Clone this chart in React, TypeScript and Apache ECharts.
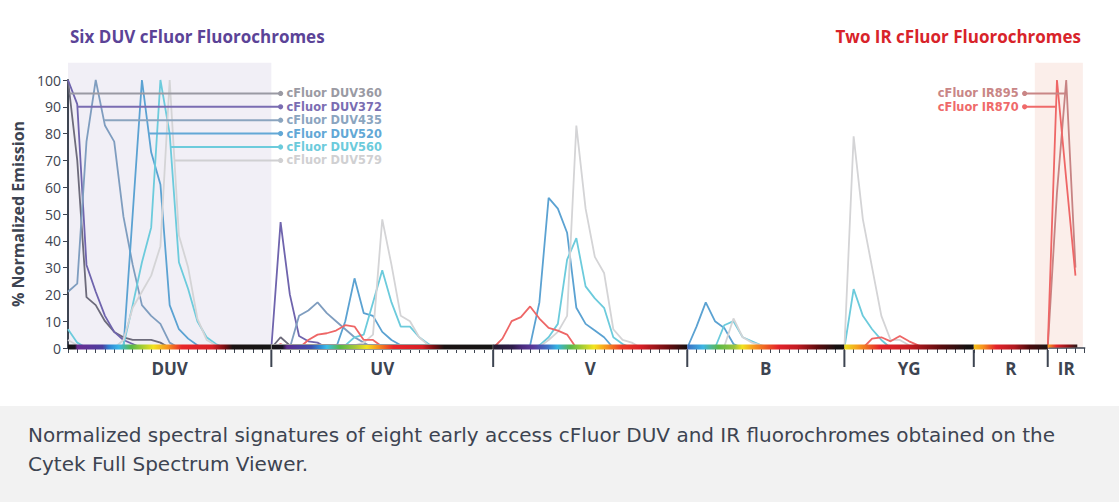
import React, { useEffect, useRef } from "react";
import * as echarts from "echarts";

const FONT = "'Open Sans', 'Noto Sans', sans-serif";
const CAPTION_FONT = "'DejaVu Sans', 'Open Sans', sans-serif";
const LABEL_FONT = "'DejaVu Sans', 'Open Sans', sans-serif";
const INK = "#3d4451";

// ---- axis / sections ----
const sectionNames = ["DUV", "UV", "V", "B", "YG", "R", "IR"];
const sectionStarts = [0, 22, 46, 67, 84, 98, 106];
const sectionEnds = [22, 46, 67, 84, 98, 106, 110];
const barEnds = [22, 46, 67, 84, 98, 106, 109.2];
const yMax = 100;
const yStep = 10;
const channelMax = 110;

// ---- series ----
const seriesNames = [
  "cFluor DUV360",
  "cFluor DUV372",
  "cFluor DUV435",
  "cFluor DUV520",
  "cFluor DUV560",
  "cFluor DUV579",
  "cFluor IR895",
  "cFluor IR870",
];

const duv360 = [[0,100],[1,70],[2,19],[3,16],[4,10],[5,6],[6,4],[7,3],[8,3],[9,3],[10,2],[11,0],[22,0],[23,4],[24,1],[25,0],[106,0]];
const duv372 = [[0,100],[1,91],[2,31],[3,21],[4,12],[5,6],[6,3],[7,1.5],[8,0],[22,0],[23,47],[24,20],[25,4.5],[26,2.5],[27,2],[28,0],[106,0]];
const duv435 = [[0,21],[1,24],[2,77],[3,100],[4,83],[5,77],[6,49],[7,31],[8,16],[9,12],[10,9],[11,2],[12,0],[24,0],[25,12],[26,14],[27,17],[28,13],[29,10],[30,7],[31,4],[32,2],[33,0],[106,0]];
const duv520 = [[0,0],[6,0],[7,50],[8,100],[9,73],[10,61],[11,16],[12,7],[13,3.5],[14,1],[15,0],[29,0],[30,10],[31,26],[32,13],[33,12],[34,6],[35,3],[36,1],[37,0],[50,1],[51,17],[52,56],[53,52],[54,43],[55,15],[56,9],[57,6.5],[58,4],[59,0],[67,0],[68,8],[69,17],[70,10],[71,7.5],[72,1.5],[73,0],[106,0]];
const duv560 = [[0,7],[1,2],[2,0],[5,0],[6,1],[7,16],[8,32],[9,45],[10,100],[11,80],[12,32],[13,22],[14,10],[15,4],[16,1.5],[17,0],[30,1],[31,4],[32,5],[33,17],[34,29],[35,17],[36,8],[37,8],[38,4],[39,1.5],[40,0],[50,0],[51,1],[52,4],[53,9],[54,33],[55,41],[56,23],[57,18.5],[58,15],[59,4],[60,1.5],[61,0],[70,0],[71,8.5],[72,10],[73,4],[74,2.5],[75,1],[76,0],[84,0],[85,22],[86,12],[87,7],[88,3],[89,0],[106,0]];
const duv579 = [[0,3],[1,1],[2,0],[5,0],[6,3],[7,15],[8,21],[9,27],[10,38],[11,100],[12,42],[13,30],[14,11],[15,3],[16,1],[17,0],[30,0],[31,1],[32,2],[33,5],[34,48],[35,31],[36,12],[37,10],[38,4],[39,1],[40,0],[50,0],[51,0.5],[52,3],[53,6],[54,12],[55,83],[56,52],[57,34],[58,28],[59,7],[60,3],[61,2],[62,0],[71,0.5],[72,11],[73,4],[74,2],[75,1],[76,0],[84,0],[85,79],[86,48],[87,30],[88,12],[89,3],[90,3],[91,1],[92,0],[106,0]];
const ir895 = [[0,0],[106,0],[107,58],[108,100],[109,30]];
const ir870 = [[0,0],[22,0],[23,1.5],[24,0],[25,0],[26,3],[27,5],[28,5.5],[29,6.5],[30,8.5],[31,8],[32,3],[33,3],[34,0.5],[35,0],[46,0],[47,3.5],[48,10],[49,11.5],[50,15.5],[51,11],[52,7.5],[53,6.5],[54,5],[55,0],[86,0],[87,3.5],[88,4],[89,2.5],[90,4.5],[91,2.5],[92,1],[93,0],[106,0],[107,100],[108,63],[109,27]];

const seriesData = [duv360, duv372, duv435, duv520, duv560, duv579, ir895, ir870];

// ---- label leaders ----
const labelLevels = [95, 90, 85, 80, 75, 70, 95, 90];
const labelSides = ["right", "right", "right", "right", "right", "right", "left", "left"];
const labelAnchors = [23, 23, 23, 23, 23, 23, 103.5, 103.5];

// ---- styles ----
const lineColors = ["#6d6b7b", "#6f64ad", "#7f9dbf", "#5ba2d2", "#6ccbdc", "#d4d4d6", "#c78383", "#ee6666"];
const labelColors = ["#9a9aa3", "#7a6db2", "#8ba5bf", "#62a8d6", "#6ccbdc", "#d0d0d2", "#c98686", "#ef6a6a"];

const barStops: [number, string][][] = [
  [[0,"#151515"],[0.035,"#1a1420"],[0.045,"#6a2c91"],[0.17,"#4b3fa0"],[0.2,"#2f7fd0"],[0.25,"#3ab7e8"],[0.31,"#56b848"],[0.42,"#f2e21e"],[0.49,"#f7941d"],[0.56,"#e8262a"],[0.71,"#d71f26"],[0.77,"#7a0e12"],[0.81,"#1a1212"],[1,"#151515"]],
  [[0,"#151515"],[0.05,"#1a1420"],[0.07,"#5b2d8e"],[0.18,"#3d4fb0"],[0.22,"#2f8ad5"],[0.25,"#3bbde8"],[0.31,"#56b848"],[0.38,"#a8c83a"],[0.43,"#f2e21e"],[0.48,"#f7941d"],[0.55,"#e8262a"],[0.68,"#d71f26"],[0.73,"#7a0e12"],[0.78,"#1a1212"],[1,"#151515"]],
  [[0,"#231a2e"],[0.1,"#2e1c4a"],[0.15,"#4b2a7e"],[0.21,"#5a3b9c"],[0.28,"#3f6fc4"],[0.33,"#35b3e3"],[0.4,"#5bb848"],[0.52,"#f3e41f"],[0.57,"#f7a51d"],[0.66,"#ec3b25"],[0.76,"#d71f26"],[0.9,"#6b0d10"],[1,"#151010"]],
  [[0,"#3b6fc2"],[0.1,"#3cb5e4"],[0.2,"#5db947"],[0.3,"#9ac43c"],[0.35,"#f2e21e"],[0.43,"#f7931e"],[0.58,"#e3232a"],[0.7,"#c21b22"],[0.83,"#5e0b0e"],[0.95,"#151111"],[1,"#151111"]],
  [[0,"#e9e21e"],[0.1,"#f6a11d"],[0.27,"#e4262a"],[0.5,"#c61c22"],[0.75,"#5a0c0e"],[0.95,"#151111"],[1,"#151111"]],
  [[0,"#f2c31c"],[0.12,"#f7941d"],[0.3,"#e3232a"],[0.55,"#b11a20"],[0.75,"#4d0a0c"],[1,"#1a1515"]],
  [[0,"#f7a21d"],[0.3,"#e3232a"],[0.7,"#8a1216"],[1,"#2a1a1a"]],
];
const barStrokes = [null, "#9a9a9a", null, null, null, null, null];

const shadeRegions = [
  [0, 22, 106.4, "#f1eff6"],
  [104.6, 109.8, 106.4, "#fbeeea"],
];

const captionLines = [
  "Normalized spectral signatures of eight early access cFluor DUV and IR fluorochromes obtained on the",
  "Cytek Full Spectrum Viewer.",
];

function crossing(points: number[][], level: number, side: string): number {
  let peak = 0;
  for (let i = 1; i < points.length; i++) if (points[i][1] > points[peak][1]) peak = i;
  const step = side === "right" ? 1 : -1;
  let i = peak;
  while (i + step >= 0 && i + step < points.length && points[i + step][1] >= level) i += step;
  const a = points[i];
  const b = points[i + step];
  if (!b) return a[0];
  const t = (a[1] - level) / (a[1] - b[1]);
  return a[0] + t * (b[0] - a[0]);
}

export default function App() {
  const ref = useRef<HTMLDivElement>(null);
  useEffect(() => {
    document.body.style.margin = "0";
    if (!ref.current) return;
    const chart = echarts.init(ref.current, undefined, { renderer: "svg" });

    const lineSeries = seriesData.map((d, k) => ({
      type: "line",
      name: seriesNames[k],
      data: d,
      symbol: "none",
      showSymbol: false,
      silent: true,
      z: 3,
      lineStyle: { color: lineColors[k], width: 1.8 },
    }));

    const option: any = {
      animation: false,
      backgroundColor: "#ffffff",
      grid: { left: 68, right: 34.3, top: 80, bottom: 154 },
      title: [
        {
          text: "Six DUV cFluor Fluorochromes",
          left: 70,
          top: 28,
          padding: 0,
          textStyle: { color: "#5b4397", fontSize: 17, fontWeight: "bold", fontFamily: FONT },
        },
        {
          text: "Two IR cFluor Fluorochromes",
          right: 38,
          top: 28,
          padding: 0,
          textStyle: { color: "#d8232a", fontSize: 17, fontWeight: "bold", fontFamily: FONT },
        },
      ],
      xAxis: {
        type: "value",
        min: 0,
        max: channelMax,
        interval: 1,
        offset: 2,
        axisLine: { show: true, lineStyle: { color: INK, width: 1.5 } },
        axisTick: { show: true, length: 5, lineStyle: { color: INK, width: 1 } },
        axisLabel: { show: false },
        splitLine: { show: false },
      },
      yAxis: {
        type: "value",
        min: 0,
        max: yMax,
        interval: yStep,
        name: "% Normalized Emission",
        nameLocation: "middle",
        nameGap: 35,
        nameTextStyle: { color: INK, fontSize: 16, fontWeight: "bold", fontFamily: FONT },
        axisLine: { show: true, lineStyle: { color: INK, width: 2 } },
        axisTick: { show: true, length: 5, lineStyle: { color: INK } },
        axisLabel: { color: INK, fontSize: 14, fontFamily: FONT, margin: 7 },
        splitLine: { show: false },
      },
      series: [
        {
          type: "custom",
          silent: true,
          z: 0,
          data: shadeRegions.map((r, i) => [i]),
          renderItem: (params: any, api: any) => {
            const r = shadeRegions[params.dataIndex];
            const p0 = api.coord([r[0], 0]);
            const p1 = api.coord([r[1], r[2]]);
            return {
              type: "rect",
              shape: { x: p0[0], y: p1[1], width: p1[0] - p0[0], height: p0[1] - p1[1] },
              style: { fill: r[3] },
            };
          },
        },
        ...lineSeries,
        {
          type: "custom",
          silent: true,
          z: 4,
          data: seriesNames.map((n, i) => [i]),
          renderItem: (params: any, api: any) => {
            const k = params.dataIndex;
            const level = labelLevels[k];
            const right = labelSides[k] === "right";
            const start = crossing(seriesData[k], level, labelSides[k]);
            const a = api.coord([start, level]);
            const b = api.coord([labelAnchors[k], level]);
            const color = labelColors[k];
            return {
              type: "group",
              children: [
                { type: "line", shape: { x1: a[0], y1: a[1], x2: b[0], y2: b[1] }, style: { stroke: color, lineWidth: 2 } },
                { type: "circle", shape: { cx: b[0], cy: b[1], r: 2.6 }, style: { fill: color } },
                {
                  type: "text",
                  x: right ? b[0] + 6 : b[0] - 6,
                  y: b[1],
                  style: {
                    text: seriesNames[k],
                    fill: color,
                    fontSize: 11.4,
                    lineHeight: 12,
                    fontWeight: "bold",
                    fontFamily: LABEL_FONT,
                    align: right ? "left" : "right",
                    verticalAlign: "middle",
                  },
                },
              ],
            };
          },
        },
        {
          type: "custom",
          silent: true,
          z: 6,
          data: sectionNames.map((n, i) => [i]),
          renderItem: (params: any, api: any) => {
            const i = params.dataIndex;
            const p0 = api.coord([sectionStarts[i], 0]);
            const p1 = api.coord([barEnds[i], 0]);
            const pe = api.coord([sectionEnds[i], 0]);
            const h = i === sectionNames.length - 1 ? 3 : 5;
            const children: any[] = [
              {
                type: "rect",
                shape: { x: p0[0], y: p0[1] - 3.5, width: p1[0] - p0[0], height: h },
                style: {
                  fill: new echarts.graphic.LinearGradient(0, 0, 1, 0, barStops[i].map(([o, c]) => ({ offset: o, color: c }))),
                  stroke: barStrokes[i] || undefined,
                  lineWidth: barStrokes[i] ? 1 : 0,
                },
              },
              {
                type: "text",
                x: (p0[0] + pe[0]) / 2,
                y: p0[1] + 20,
                style: {
                  text: sectionNames[i],
                  fill: INK,
                  fontSize: 17,
                  fontWeight: "bold",
                  fontFamily: FONT,
                  align: "center",
                  verticalAlign: "middle",
                },
              },
            ];
            if (i < sectionNames.length - 1) {
              children.push({
                type: "line",
                shape: { x1: pe[0], y1: pe[1] + 2, x2: pe[0], y2: pe[1] + 19 },
                style: { stroke: INK, lineWidth: 2 },
              });
            }
            return { type: "group", children };
          },
        },
      ],
      graphic: [
        {
          type: "rect",
          left: 0,
          top: 406,
          shape: { width: 1119, height: 96 },
          style: { fill: "#f2f2f2" },
          silent: true,
        },
        ...captionLines.map((t, i) => ({
          type: "text",
          left: 28,
          top: 425 + i * 29,
          style: { text: t, fill: INK, fontSize: 20, fontFamily: CAPTION_FONT },
          silent: true,
        })),
      ],
    };
    chart.setOption(option);
    return () => chart.dispose();
  }, []);
  return <div ref={ref} style={{ width: 1119, height: 502 }} />;
}
